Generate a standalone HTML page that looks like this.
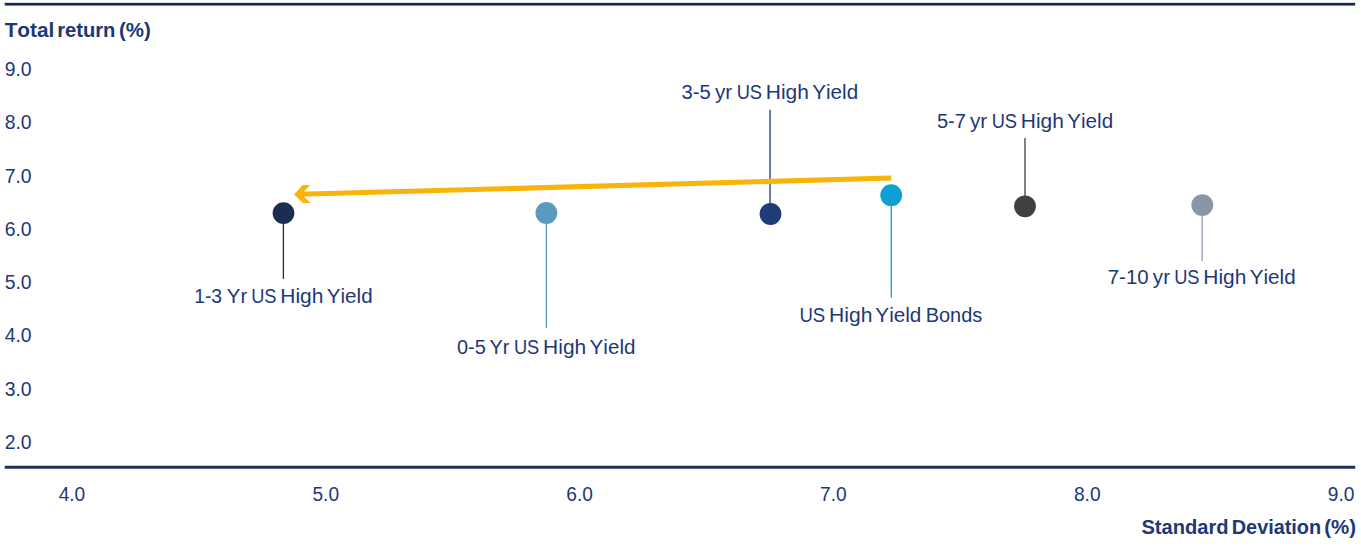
<!DOCTYPE html>
<html>
<head>
<meta charset="utf-8">
<title>Total return vs Standard Deviation</title>
<style>
  html, body { margin: 0; padding: 0; background: #ffffff; }
  body { width: 1361px; height: 546px; overflow: hidden; font-family: "Liberation Sans", sans-serif; }
  svg { display: block; position: absolute; left: 0; top: 0; }
  text { font-family: "Liberation Sans", sans-serif; font-kerning: none; fill: #1d3877; }
  .t  { font-size: 19.9px; }
  .b  { font-size: 19.9px; font-weight: bold; fill: #1d3877; }
</style>
</head>
<body>
<svg width="1361" height="546" viewBox="0 0 1361 546">
  <rect x="0" y="0" width="1361" height="546" fill="#ffffff"/>

  <!-- top rule and x axis -->
  <rect x="4.7" y="2.85" width="1350.5" height="2.7" fill="#15265a"/>
  <rect x="4.7" y="465.75" width="1350.5" height="3" fill="#1e2f5a"/>

  <!-- leader lines -->
  <line x1="283.4"  y1="213"   x2="283.4"  y2="278.9" stroke="#1d2d51" stroke-width="1.3"/>
  <line x1="546.4"  y1="213"   x2="546.4"  y2="328.0" stroke="#5b9abc" stroke-width="1.3"/>
  <line x1="770.05" y1="109.7" x2="770.05" y2="214"   stroke="#3b528a" stroke-width="1.5"/>
  <line x1="891.3"  y1="195"   x2="891.3"  y2="297.8" stroke="#24a6da" stroke-width="1.4"/>
  <line x1="1025"   y1="138.0" x2="1025"   y2="206"   stroke="#575757" stroke-width="1.5"/>
  <line x1="1202.15" y1="205"  x2="1202.15" y2="261.0" stroke="#99a3b6" stroke-width="1.4"/>

  <!-- arrow -->
  <line x1="891.2" y1="178.0" x2="300" y2="194.26" stroke="#f9b40a" stroke-width="5.2"/>
  <polygon points="294.0,194.4 302.7,185.0 310.2,185.0 304,191.6 304,196.65 310.6,202.9 303,202.9" fill="#f9b40a"/>

  <!-- points -->
  <circle cx="283.5"  cy="213.1" r="10.9" fill="#1d2d51"/>
  <circle cx="546.4"  cy="213.0" r="10.9" fill="#5b9abc"/>
  <circle cx="770.5"  cy="214.0" r="10.9" fill="#1f3b78"/>
  <circle cx="891.2"  cy="195.2" r="10.9" fill="#0ea0d4"/>
  <circle cx="1025.0" cy="206.3" r="10.9" fill="#404040"/>
  <circle cx="1202.3" cy="205.05" r="10.9" fill="#8996a9"/>

  <!-- axis titles -->
    <text class="b" x="4.67" y="37.00" textLength="49.71" lengthAdjust="spacingAndGlyphs">Total</text>
    <text class="b" x="57.17" y="37.00" textLength="58.18" lengthAdjust="spacingAndGlyphs">return</text>
    <text class="b" x="118.98" y="37.00" textLength="31.84" lengthAdjust="spacingAndGlyphs">(%)</text>
    <text class="b" x="1141.42" y="534.00" textLength="87.10" lengthAdjust="spacingAndGlyphs">Standard</text>
    <text class="b" x="1231.77" y="534.00" textLength="89.36" lengthAdjust="spacingAndGlyphs">Deviation</text>
    <text class="b" x="1324.18" y="534.00" textLength="31.84" lengthAdjust="spacingAndGlyphs">(%)</text>
  <!-- y tick labels -->
    <text class="t" x="4.63" y="76.00" textLength="26.93" lengthAdjust="spacingAndGlyphs">9.0</text>
    <text class="t" x="4.63" y="129.00" textLength="26.93" lengthAdjust="spacingAndGlyphs">8.0</text>
    <text class="t" x="4.63" y="183.00" textLength="26.93" lengthAdjust="spacingAndGlyphs">7.0</text>
    <text class="t" x="4.63" y="236.00" textLength="26.93" lengthAdjust="spacingAndGlyphs">6.0</text>
    <text class="t" x="4.63" y="289.00" textLength="26.93" lengthAdjust="spacingAndGlyphs">5.0</text>
    <text class="t" x="4.63" y="342.00" textLength="26.93" lengthAdjust="spacingAndGlyphs">4.0</text>
    <text class="t" x="4.63" y="396.00" textLength="26.93" lengthAdjust="spacingAndGlyphs">3.0</text>
    <text class="t" x="4.63" y="449.00" textLength="26.93" lengthAdjust="spacingAndGlyphs">2.0</text>
  <!-- x tick labels -->
    <text class="t" x="58.66" y="501" textLength="26.59" lengthAdjust="spacingAndGlyphs">4.0</text>
    <text class="t" x="312.48" y="501" textLength="26.59" lengthAdjust="spacingAndGlyphs">5.0</text>
    <text class="t" x="566.30" y="501" textLength="26.59" lengthAdjust="spacingAndGlyphs">6.0</text>
    <text class="t" x="820.12" y="501" textLength="26.59" lengthAdjust="spacingAndGlyphs">7.0</text>
    <text class="t" x="1073.94" y="501" textLength="26.59" lengthAdjust="spacingAndGlyphs">8.0</text>
    <text class="t" x="1327.76" y="501" textLength="26.59" lengthAdjust="spacingAndGlyphs">9.0</text>
  <!-- point labels -->
    <text class="t" x="194.23" y="303.00" textLength="27.81" lengthAdjust="spacingAndGlyphs">1-3</text>
    <text class="t" x="226.85" y="303.00" textLength="20.39" lengthAdjust="spacingAndGlyphs">Yr</text>
    <text class="t" x="251.14" y="303.00" textLength="25.34" lengthAdjust="spacingAndGlyphs">US</text>
    <text class="t" x="280.33" y="303.00" textLength="43.08" lengthAdjust="spacingAndGlyphs">High</text>
    <text class="t" x="326.80" y="303.00" textLength="45.83" lengthAdjust="spacingAndGlyphs">Yield</text>
    <text class="t" x="456.92" y="354.00" textLength="28.82" lengthAdjust="spacingAndGlyphs">0-5</text>
    <text class="t" x="489.56" y="354.00" textLength="19.92" lengthAdjust="spacingAndGlyphs">Yr</text>
    <text class="t" x="513.94" y="354.00" textLength="25.34" lengthAdjust="spacingAndGlyphs">US</text>
    <text class="t" x="543.13" y="354.00" textLength="43.08" lengthAdjust="spacingAndGlyphs">High</text>
    <text class="t" x="589.60" y="354.00" textLength="45.83" lengthAdjust="spacingAndGlyphs">Yield</text>
    <text class="t" x="681.58" y="99.00" textLength="29.17" lengthAdjust="spacingAndGlyphs">3-5</text>
    <text class="t" x="714.95" y="99.00" textLength="17.30" lengthAdjust="spacingAndGlyphs">yr</text>
    <text class="t" x="736.64" y="99.00" textLength="25.34" lengthAdjust="spacingAndGlyphs">US</text>
    <text class="t" x="765.83" y="99.00" textLength="43.08" lengthAdjust="spacingAndGlyphs">High</text>
    <text class="t" x="812.30" y="99.00" textLength="45.83" lengthAdjust="spacingAndGlyphs">Yield</text>
    <text class="t" x="936.90" y="128.00" textLength="29.01" lengthAdjust="spacingAndGlyphs">5-7</text>
    <text class="t" x="969.95" y="128.00" textLength="17.30" lengthAdjust="spacingAndGlyphs">yr</text>
    <text class="t" x="991.64" y="128.00" textLength="25.34" lengthAdjust="spacingAndGlyphs">US</text>
    <text class="t" x="1020.83" y="128.00" textLength="43.08" lengthAdjust="spacingAndGlyphs">High</text>
    <text class="t" x="1067.30" y="128.00" textLength="45.83" lengthAdjust="spacingAndGlyphs">Yield</text>
    <text class="t" x="1107.75" y="284.00" textLength="40.84" lengthAdjust="spacingAndGlyphs">7-10</text>
    <text class="t" x="1152.85" y="284.00" textLength="17.14" lengthAdjust="spacingAndGlyphs">yr</text>
    <text class="t" x="1174.14" y="284.00" textLength="25.34" lengthAdjust="spacingAndGlyphs">US</text>
    <text class="t" x="1203.33" y="284.00" textLength="43.08" lengthAdjust="spacingAndGlyphs">High</text>
    <text class="t" x="1249.80" y="284.00" textLength="45.83" lengthAdjust="spacingAndGlyphs">Yield</text>
    <text class="t" x="799.47" y="322.00" textLength="25.78" lengthAdjust="spacingAndGlyphs">US</text>
    <text class="t" x="829.07" y="322.00" textLength="43.35" lengthAdjust="spacingAndGlyphs">High</text>
    <text class="t" x="875.35" y="322.00" textLength="45.99" lengthAdjust="spacingAndGlyphs">Yield</text>
    <text class="t" x="925.66" y="322.00" textLength="56.56" lengthAdjust="spacingAndGlyphs">Bonds</text>
</svg>
</body>
</html>
